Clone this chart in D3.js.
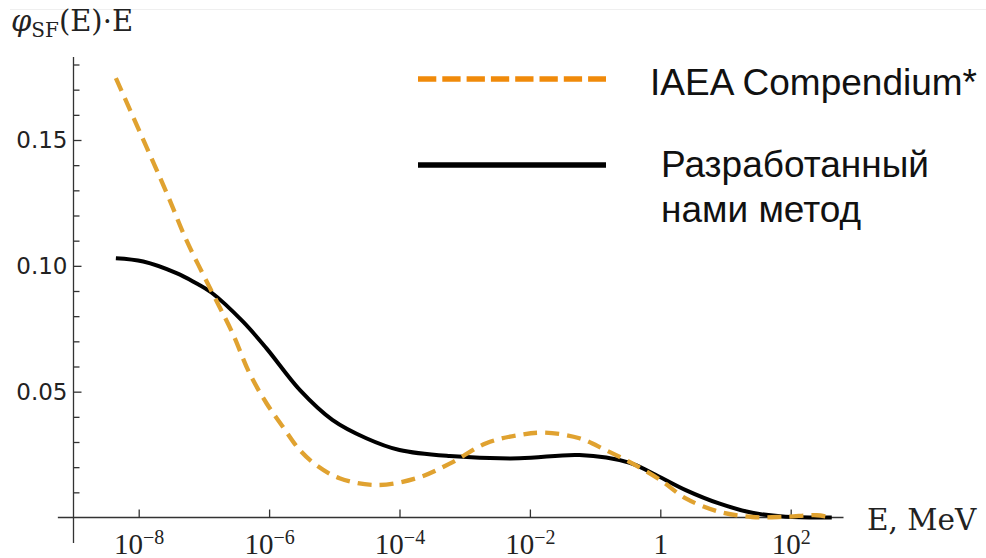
<!DOCTYPE html>
<meta charset="utf-8">
<script src="https://d3js.org/d3.v7.min.js"></script>
<style>

body {
  margin: 0;
  background: #fff;
}

.axis path.domain {
  display: none;
}

.axis line {
  stroke: #333;
  stroke-width: 1.3;
}

.yaxis text {
  font-family: "DejaVu Sans", sans-serif;
  font-size: 23px;
  fill: #222;
}

.xaxis text {
  font-family: "Liberation Serif", serif;
  font-size: 29px;
  fill: #222;
}

.axisline {
  stroke: #333;
  stroke-width: 1.3;
}

.line {
  fill: none;
  stroke-linejoin: round;
}

.legend text {
  font-family: "Liberation Sans", Arial, sans-serif;
  font-size: 37px;
  fill: #111;
}

</style>
<body>
<div id="chart"></div>
<script>

// log10 of energy (MeV) and phi*E values
var iaeaLogE = [-8.35, -7.57, -7.27, -6.88, -6.56, -6.30, -6.04, -5.79, -5.53, -5.28, -4.92, -4.36, -3.74, -3.23, -2.67, -2.16, -1.78, -1.24, -0.84, -0.43, 0.00, 0.39, 0.90, 1.41, 1.92, 2.40, 2.63];
var iaeaVal  = [0.1746, 0.1289, 0.1103, 0.0898, 0.0732, 0.0573, 0.0454, 0.0361, 0.0268, 0.0209, 0.0156, 0.0129, 0.0156, 0.0214, 0.0295, 0.0328, 0.0337, 0.0315, 0.0268, 0.0215, 0.0149, 0.0076, 0.0023, 0.0002, 0.0003, 0.0009, 0.0000];

var ourLogE = [-8.35, -7.93, -7.42, -7.16, -6.88, -6.40, -6.04, -5.53, -5.03, -4.51, -4.00, -3.23, -2.16, -1.24, -0.48, -0.12, 0.39, 0.90, 1.41, 1.92, 2.63];
var ourVal  = [0.1030, 0.1017, 0.0971, 0.0937, 0.0893, 0.0778, 0.0672, 0.0507, 0.0388, 0.0315, 0.0268, 0.0244, 0.0235, 0.0248, 0.0218, 0.0176, 0.0109, 0.0056, 0.0019, 0.0003, 0.0000];

// tick values
var xTicks = [1e-8, 1e-6, 1e-4, 1e-2, 1, 1e2];
var xTickExp = ["\u22128", "\u22126", "\u22124", "\u22122", "", "2"];
var yMajor = [0.05, 0.10, 0.15];
var yMinor = [0.01, 0.02, 0.03, 0.04, 0.06, 0.07, 0.08, 0.09, 0.11, 0.12, 0.13, 0.14, 0.16, 0.17, 0.18];

var legendNames = ["IAEA Compendium*", ["Разработанный", "нами метод"]];

var width = 986, height = 558;

var svg = d3.select("#chart").append("svg")
    .attr("width", width)
    .attr("height", height);

// scales
var x = d3.scaleLog()
    .domain([1e-8, 1e2])
    .range([138.7, 790.7]);

var y = d3.scaleLinear()
    .domain([0, 0.15])
    .range([517.5, 140]);

// faint rule at the very top
svg.append("line")
    .attr("x1", 10).attr("x2", width)
    .attr("y1", 9.5).attr("y2", 9.5)
    .attr("stroke", "#efefef")
    .attr("stroke-width", 1);

// axis lines (y axis sits at E = 1e-9)
svg.append("line")
    .attr("class", "axisline")
    .attr("x1", x(1e-9)).attr("x2", x(1e-9))
    .attr("y1", y(0.183)).attr("y2", y(-0.0101));

svg.append("line")
    .attr("class", "axisline")
    .attr("x1", x(Math.pow(10, -9.24))).attr("x2", x(Math.pow(10, 2.81)))
    .attr("y1", y(0)).attr("y2", y(0));

// y axis ticks
svg.append("g")
    .attr("class", "axis yaxis")
    .attr("transform", "translate(" + x(1e-9) + ",0)")
    .call(d3.axisLeft(y).tickValues(yMinor).tickSizeInner(-6).tickSizeOuter(0).tickFormat(""));

svg.append("g")
    .attr("class", "axis yaxis")
    .attr("transform", "translate(" + x(1e-9) + ",0)")
    .call(d3.axisLeft(y).tickValues(yMajor).tickSizeInner(-8).tickSizeOuter(0)
      .tickPadding(6).tickFormat(d3.format(".2f")));

// x axis ticks
var xg = svg.append("g")
    .attr("class", "axis xaxis")
    .attr("transform", "translate(0," + y(0) + ")")
    .call(d3.axisBottom(x).tickValues(xTicks).tickSizeInner(-8).tickSizeOuter(0).tickFormat(""));

xg.selectAll(".tick").each(function(d, i) {
  var t = d3.select(this).append("text")
      .attr("fill", "#222")
      .attr("y", 36)
      .attr("text-anchor", "middle");
  if (xTickExp[i] === "") {
    t.text("1");
  } else {
    t.append("tspan").text("10");
    t.append("tspan")
      .attr("dy", -10)
      .style("font-size", "20px")
      .text(xTickExp[i]);
  }
});

// axis titles
var ytitle = svg.append("text")
    .attr("x", 11)
    .attr("y", 31)
    .style("font-family", "DejaVu Serif, serif")
    .style("font-size", "29px")
    .attr("fill", "#222");
ytitle.append("tspan").style("font-style", "italic").text("\u03c6");
ytitle.append("tspan").attr("dy", 6).style("font-size", "20px").text("SF");
ytitle.append("tspan").attr("dy", -6).text("(E)\u00b7E");

svg.append("text")
    .attr("x", 867)
    .attr("y", 530)
    .style("font-family", "DejaVu Serif, serif")
    .style("font-size", "29.5px")
    .attr("fill", "#222")
    .text("E, MeV");

// curves
var line = d3.line()
    .x(function(d) { return x(d.e); })
    .y(function(d) { return y(d.v); })
    .curve(d3.curveCatmullRom.alpha(0.5));

var iaea = iaeaLogE.map(function(l, i) { return {e: Math.pow(10, l), v: iaeaVal[i]}; });
var ours = ourLogE.map(function(l, i) { return {e: Math.pow(10, l), v: ourVal[i]}; });

svg.append("path")
    .datum(ours)
    .attr("class", "line")
    .attr("stroke", "#000")
    .attr("stroke-width", 4)
    .attr("d", line);

svg.append("path")
    .datum(iaea)
    .attr("class", "line")
    .attr("stroke", "#e0a230")
    .attr("stroke-width", 4.3)
    .attr("stroke-dasharray", "14,8")
    .attr("d", line);

// legend
var legend = svg.append("g").attr("class", "legend");

legend.append("line")
    .attr("x1", 418).attr("x2", 606)
    .attr("y1", 79).attr("y2", 79)
    .attr("stroke", "#f08a0a")
    .attr("stroke-width", 5.5)
    .attr("stroke-dasharray", "18.3,6");

legend.append("line")
    .attr("x1", 418).attr("x2", 606)
    .attr("y1", 165).attr("y2", 165)
    .attr("stroke", "#000")
    .attr("stroke-width", 5.5);

legend.append("text")
    .attr("x", 650)
    .attr("y", 95)
    .text(legendNames[0]);

legend.append("text")
    .attr("x", 661)
    .attr("y", 177)
    .text(legendNames[1][0]);

legend.append("text")
    .attr("x", 661)
    .attr("y", 222)
    .text(legendNames[1][1]);

</script>
</body>
